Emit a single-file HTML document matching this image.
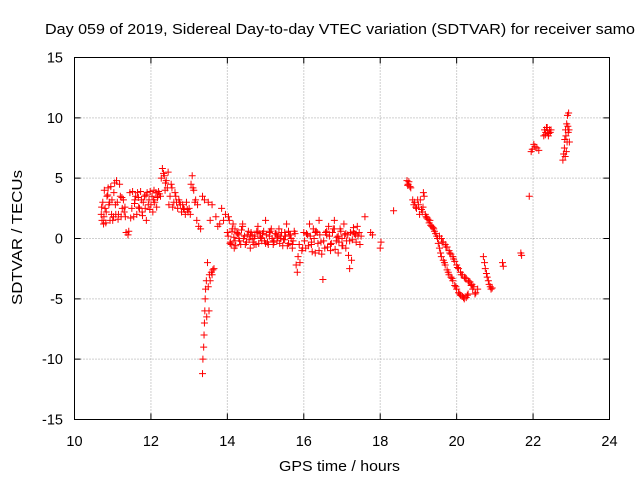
<!DOCTYPE html>
<html><head><meta charset="utf-8"><style>
body{margin:0;background:#fff;}
svg{display:block;font-family:"Liberation Sans",sans-serif;}
</style></head><body>
<svg id="chart" width="640" height="480" viewBox="0 0 640 480" xmlns="http://www.w3.org/2000/svg">
<rect width="640" height="480" fill="#fff"/>
<text x="45" y="34" font-size="14.5" textLength="590" lengthAdjust="spacingAndGlyphs">Day 059 of 2019, Sidereal Day-to-day VTEC variation (SDTVAR) for receiver samo</text>
<g id="grid"></g>
<g id="axes"></g>
<g id="pts" stroke="#f00" stroke-width="1"></g>
<rect x="74.5" y="57.5" width="535" height="362" fill="none" stroke="#000"/>
<text x="279" y="471" font-size="14.5" textLength="121" lengthAdjust="spacingAndGlyphs">GPS time / hours</text>
<text x="0" y="0" font-size="14.5" textLength="135" lengthAdjust="spacingAndGlyphs" transform="translate(22 305) rotate(-90)">SDTVAR / TECUs</text>
</svg>
<script>
const xTicks=[10,12,14,16,18,20,22,24];
const yTicks=[-15,-10,-5,0,5,10,15];
const times=[10.7,10.72,10.74,10.76,10.78,10.8,10.82,10.85,10.88,10.9,10.93,10.95,10.98,11.0,11.03,11.05,11.08,11.1,11.12,11.15,11.18,11.2,11.22,11.25,11.28,11.3,11.33,11.35,11.4,11.42,11.45,11.5,11.52,11.55,11.58,11.6,11.63,11.65,11.68,11.7,11.73,11.75,11.78,11.8,11.83,11.85,11.88,11.9,11.93,11.95,11.98,12.0,12.03,12.05,12.08,12.1,12.13,12.15,12.18,12.2,12.25,
12.3,12.33,12.35,12.38,12.4,12.43,12.45,12.5,12.53,12.55,12.6,12.63,12.65,12.7,12.73,12.75,12.8,12.83,12.85,12.9,12.93,12.95,13.0,13.03,13.05,13.08,13.1,13.12,13.15,13.2,13.25,13.3,13.35,13.4,
13.35,13.36,13.38,13.39,13.4,13.41,13.42,13.43,13.45,13.46,13.48,13.5,13.52,13.53,13.55,13.58,13.6,13.62,13.65,
13.5,13.55,13.6,13.7,13.75,13.8,13.85,13.9,13.95,14.0,14.03,14.05,14.08,14.1,14.13,14.15,14.18,14.2,14.25,14.3,14.35,14.4,14.45,14.5,14.55,14.6,14.65,14.7,14.75,14.8,14.85,14.9,14.95,15.0,15.05,15.1,15.15,15.2,15.25,15.3,15.35,15.4,15.45,15.5,15.55,15.6,15.65,15.7,15.75,15.8,15.83,15.85,15.88,15.9,15.95,16.0,16.05,16.1,16.15,16.2,16.25,16.3,16.35,16.4,16.45,16.5,16.55,16.6,16.65,16.7,16.75,16.8,16.85,16.9,16.95,17.0,17.05,17.1,17.15,17.2,17.25,17.3,17.35,17.4,17.45,17.5,17.6,17.75,17.8,18.0,18.02,18.35,
14.2,14.3,14.4,14.5,14.6,14.7,14.8,14.9,15.0,15.1,15.2,15.3,15.4,15.5,15.6,15.7,16.2,16.3,16.4,16.6,16.7,16.8,16.9,17.0,17.1,17.2,17.3,
14.02,14.07,14.12,14.17,14.22,14.27,14.32,14.37,14.42,14.47,14.52,14.57,14.62,14.67,14.72,14.77,14.82,14.87,14.92,14.97,15.02,15.07,15.12,15.17,15.22,15.27,15.32,15.37,15.42,15.47,15.52,15.57,15.62,15.67,15.72,15.77,15.97,16.02,16.07,16.12,16.17,16.22,16.27,16.32,16.37,16.42,16.47,16.52,16.57,16.62,16.67,16.72,16.77,16.82,16.87,16.92,16.97,17.02,17.07,17.12,17.17,17.22,17.27,17.32,17.37,17.42,17.47,
10.71,10.77,10.83,10.87,10.92,10.97,11.02,11.07,11.14,11.24,11.32,11.47,11.57,11.67,11.77,11.87,11.97,12.07,12.17,12.22,12.27,12.37,12.47,12.57,12.67,12.77,12.87,12.97,13.17,13.22,
18.72,18.85,18.88,19.12,19.18,19.22,19.28,19.32,19.38,19.42,19.48,19.52,19.58,19.62,19.68,19.72,19.78,19.82,19.88,19.92,19.98,20.02,20.08,20.12,20.18,20.22,20.28,20.32,20.38,20.42,20.48,
18.7,18.73,18.75,18.78,18.8,18.9,18.93,18.95,18.98,19.0,19.03,19.05,19.08,19.1,19.13,19.15,19.2,19.25,19.3,19.35,19.4,19.45,19.5,19.55,19.6,19.65,19.7,19.75,19.8,19.85,19.9,19.95,20.0,20.05,20.1,20.15,20.2,20.25,20.3,
19.55,19.6,19.65,19.7,19.75,19.8,19.85,19.9,19.95,20.0,20.05,20.1,20.15,20.2,20.25,20.3,20.35,20.4,20.45,20.5,20.55,
20.7,20.73,20.75,20.78,20.8,20.83,20.85,20.88,20.9,20.93,21.2,21.22,21.68,21.7,21.9,21.95,21.98,22.02,22.05,22.1,22.15,22.28,22.3,22.32,22.35,22.38,22.4,22.43,22.45,22.33,22.37,22.41,22.47,
22.78,22.8,22.82,22.83,22.84,22.85,22.86,22.87,22.88,22.89,22.9,22.91,22.92,22.93,22.94,22.95];
const values=[2.0,1.5,3.0,1.2,4.0,2.5,1.3,3.5,4.2,2.8,1.5,4.3,3.2,1.5,3.8,4.6,2.0,4.8,3.0,2.0,4.5,3.5,1.8,2.5,3.2,2.2,1.8,0.5,0.3,0.6,3.8,2.5,3.9,1.8,3.2,3.5,2.0,3.8,2.6,2.5,3.9,3.2,1.9,3.0,3.5,2.5,1.5,3.8,2.8,3.2,3.9,2.8,3.5,2.2,4.0,3.0,3.8,2.6,3.5,3.9,3.5,
5.8,5.4,5.2,4.6,4.8,4.2,5.5,3.5,4.5,4.2,3.0,3.8,3.5,2.5,3.2,3.0,2.2,2.8,2.5,2.0,3.0,2.4,2.5,2.0,4.5,5.2,4.2,4.0,3.0,1.5,1.0,0.8,3.5,3.2,
-11.2,-10.0,-9.0,-8.0,-7.0,-6.0,-5.0,-4.2,-3.5,-6.5,-2.0,-4.0,-6.0,-3.0,-3.5,-2.8,-3.0,-2.6,-2.5,
3.0,1.5,2.8,1.8,1.0,1.2,2.5,1.5,2.0,0.5,1.8,1.5,-0.3,-0.5,0.8,1.2,-0.8,-0.2,0.5,0.0,-0.5,1.2,0.2,-0.3,0.6,-0.8,0.3,0.0,-0.5,1.0,0.4,-0.2,0.6,1.5,-0.3,0.2,0.8,-0.5,0.4,-0.2,0.8,0.0,-0.6,0.5,1.2,-0.4,0.3,-0.8,0.6,-2.2,-2.8,-1.5,-0.5,-2.0,-1.0,0.5,-0.8,0.3,1.2,-0.5,0.8,-1.2,0.5,1.5,-0.3,-3.4,-0.8,0.6,1.0,-1.0,0.5,1.5,-0.2,-1.2,0.8,0.0,1.2,-0.8,0.3,-2.5,-1.8,0.6,0.3,1.0,0.5,0.2,1.8,0.5,0.3,-0.8,-0.3,2.3,
0.8,0.3,1.0,-0.3,0.2,-0.5,0.5,0.0,-0.4,0.5,-0.2,0.3,0.2,-0.1,0.6,-0.5,-0.3,0.5,-1.0,0.3,-0.5,0.8,0.2,-0.6,0.4,-0.2,0.9,
0.2,-0.4,0.6,0.1,-0.6,0.4,-0.2,0.7,0.0,-0.5,0.3,-0.1,0.5,-0.3,0.2,0.6,-0.4,0.1,0.4,-0.2,0.3,-0.5,0.6,0.0,-0.3,0.4,0.1,-0.4,0.5,-0.1,0.2,-0.6,0.3,0.0,-0.2,0.4,-0.8,-0.2,0.4,-0.6,0.2,-1.1,0.0,0.6,-0.4,0.3,-1.3,-0.2,0.5,-0.7,0.2,-0.4,0.8,-0.9,0.1,-0.3,0.6,-0.6,0.3,-0.2,-1.4,0.5,-0.1,0.4,-0.3,0.2,-0.5,
2.6,1.8,2.2,3.6,3.0,2.0,1.8,2.8,1.6,3.4,2.6,1.7,2.9,3.4,2.2,3.6,2.4,3.2,3.4,3.7,5.0,4.0,2.8,2.6,3.0,2.8,2.4,2.2,3.2,2.8,
4.4,3.2,2.8,2.6,2.0,1.7,1.3,1.1,0.9,0.6,0.2,-0.4,-1.2,-0.3,-2.0,-0.7,-2.8,-1.2,-3.3,-1.7,-4.0,-2.4,-4.6,-3.0,-4.9,-3.3,-4.7,-3.6,-3.9,-4.2,-4.6,
4.8,4.5,4.7,4.3,4.2,3.0,2.6,2.5,3.2,2.8,2.0,3.2,2.4,2.2,3.8,3.5,1.8,1.6,1.5,1.0,0.8,0.4,0.0,-0.8,-1.5,-1.8,-2.2,-2.6,-3.0,-3.2,-3.5,-3.9,-4.2,-4.5,-4.7,-4.8,-5.0,-4.9,-4.6,
0.2,0.0,-0.3,-0.5,-0.7,-1.0,-1.3,-1.5,-1.9,-2.2,-2.5,-2.8,-3.0,-3.2,-3.3,-3.5,-3.6,-3.8,-4.0,-4.5,-4.2,
-1.5,-2.0,-2.5,-2.9,-3.2,-3.5,-3.8,-4.0,-4.2,-4.1,-2.0,-2.3,-1.2,-1.4,3.5,7.2,7.4,7.8,7.6,7.5,7.3,8.5,9.0,8.6,9.2,8.8,8.5,9.0,8.8,8.8,9.2,8.7,9.0,
6.5,7.0,7.5,8.2,6.8,9.0,8.5,7.2,9.5,8.0,10.2,9.3,8.8,10.4,9.0,8.0];
const X0=74.5,X1=609.5,Y0=419.5,Y1=57.5;
function xs(v){return X0+(v-10)/14*(X1-X0);}
function ys(v){return Y0-(v+15)/30*(Y0-Y1);}
const NS="http://www.w3.org/2000/svg";
const grid=document.getElementById('grid'),axes=document.getElementById('axes'),pts=document.getElementById('pts');
function mk(tag,attrs,parent){const e=document.createElementNS(NS,tag);for(const k in attrs)e.setAttribute(k,attrs[k]);parent.appendChild(e);return e;}
xTicks.forEach(t=>{const x=xs(t);
 if(t>10&&t<24){const g=mk('line',{x1:x,x2:x,y1:Y0,y2:Y1,stroke:'#a0a0a0','stroke-dasharray':'1,2'},grid);
 
 }
 const a=mk('path',{d:`M${x},${Y0}v-6M${x},${Y1}v6`,stroke:'#000'},axes);
 
 
 const l=mk('text',{x:x,y:446,'font-size':14.5,'text-anchor':'middle'},axes);l.textContent=t;
 
 });
yTicks.forEach(t=>{const y=ys(t);
 if(t>-15&&t<15){const g=mk('line',{x1:X0,x2:X1,y1:y,y2:y,stroke:'#a0a0a0','stroke-dasharray':'1,2'},grid);
 
 }
 const a=mk('path',{d:`M${X0},${y}h6M${X1},${y}h-6`,stroke:'#000'},axes);
 
 
 const l=mk('text',{x:63,y:y+5,'font-size':14.5,'text-anchor':'end'},axes);l.textContent=t;
 
 });
let d='';
for(let i=0;i<times.length&&i<values.length;i++){const x=xs(times[i]),y=ys(values[i]);d+=`M${x-3.5},${y}h7M${x},${y-3.5}v7`;}
const p=mk('path',{d:d,fill:'none'},pts);


</script>
</body></html>
